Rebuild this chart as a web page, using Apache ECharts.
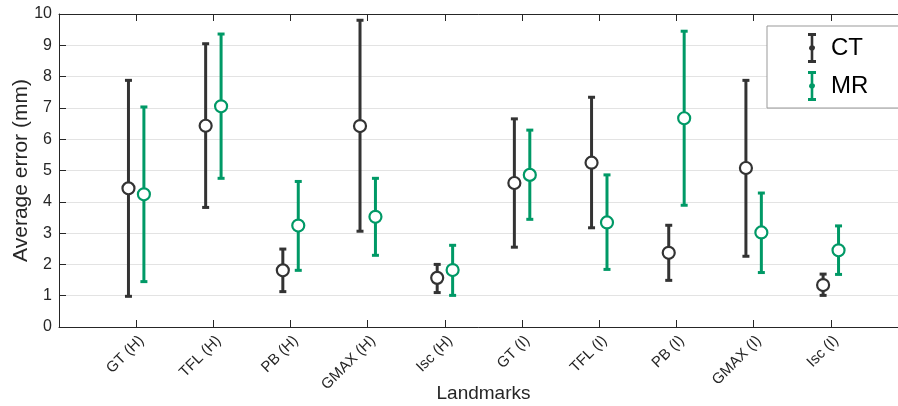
<!DOCTYPE html>
<html>
<head>
<meta charset="utf-8">
<script src="https://cdn.jsdelivr.net/npm/echarts@6/dist/echarts.min.js"></script>
<style>
  html, body { margin: 0; padding: 0; background: #fff; }
  #main { width: 898px; height: 406px; }
</style>
</head>
<body>
<div id="main"></div>
<script>
// 数据
var landmarks = ['GT (H)', 'TFL (H)', 'PB (H)', 'GMAX (H)', 'Isc (H)', 'GT (I)', 'TFL (I)', 'PB (I)', 'GMAX (I)', 'Isc (I)'];

var ctMean = [4.43, 6.43, 1.81, 6.42, 1.57, 4.60, 5.25, 2.37, 5.08, 1.34];
var ctLow  = [0.98, 3.82, 1.13, 3.06, 1.10, 2.55, 3.17, 1.49, 2.26, 1.01];
var ctHigh = [7.88, 9.05, 2.49, 9.80, 2.00, 6.65, 7.34, 3.25, 7.88, 1.69];

var mrMean = [4.24, 7.05, 3.24, 3.52, 1.82, 4.86, 3.34, 6.67, 3.02, 2.45];
var mrLow  = [1.45, 4.75, 1.81, 2.29, 1.01, 3.44, 1.84, 3.89, 1.74, 1.68];
var mrHigh = [7.03, 9.36, 4.65, 4.75, 2.61, 6.29, 4.86, 9.45, 4.28, 3.23];

var ctColor = '#333333';
var mrColor = '#009966';
var fontFamily = '"Liberation Sans", Arial, Helvetica, sans-serif';
var offset = 0.1;

var myChart = echarts.init(document.getElementById('main'));

// 误差线
function errorBar(api) {
    var x = api.value(0);
    var top = api.coord([x, api.value(2)]);
    var bottom = api.coord([x, api.value(1)]);
    var hw = 3.5;
    var style = { stroke: api.visual('color'), lineWidth: 3 };
    return {
        type: 'group',
        children: [
            { type: 'line', shape: { x1: top[0], y1: top[1], x2: bottom[0], y2: bottom[1] }, style: style },
            { type: 'line', shape: { x1: top[0] - hw, y1: top[1], x2: top[0] + hw, y2: top[1] }, style: style },
            { type: 'line', shape: { x1: bottom[0] - hw, y1: bottom[1], x2: bottom[0] + hw, y2: bottom[1] }, style: style }
        ]
    };
}

function barData(low, high, shift) {
    return low.map(function (v, i) { return [i + 1 + shift, v, high[i]]; });
}
function pointData(mean, shift) {
    return mean.map(function (v, i) { return [i + 1 + shift, v]; });
}

var legendIcon = 'path://M1,0H9V3H6.3V12.6A2.6,2.6 0 0,1 6.3,17.4V27H9V30H1V27H3.7V17.4A2.6,2.6 0 0,1 3.7,12.6V3H1Z';

var option = {
    animation: false,
    textStyle: { fontFamily: fontFamily },
    grid: { left: 59, width: 849, top: 14, height: 313, outerBoundsMode: 'none', containLabel: false },
    legend: {
        orient: 'vertical',
        left: 767,
        top: 26,
        data: ['CT', 'MR'],
        icon: legendIcon,
        itemWidth: 8,
        itemHeight: 31,
        itemGap: 8,
        padding: [7, 70, 7, 41],
        borderColor: '#999999',
        borderWidth: 1,
        backgroundColor: '#ffffff',
        selectedMode: false,
        textStyle: { fontSize: 24, color: '#000', padding: [0, 0, 0, 10], fontFamily: fontFamily }
    },
    xAxis: [{
        type: 'value',
        min: 0,
        max: 11,
        interval: 1,
        name: 'Landmarks',
        nameLocation: 'middle',
        nameGap: 57,
        nameMoveOverlap: false,
        nameTextStyle: { fontSize: 19, color: '#262626' },
        axisLine: { show: true, lineStyle: { color: '#262626', width: 1 } },
        axisTick: { show: true, inside: true, length: 7, lineStyle: { color: '#262626' } },
        axisLabel: {
            rotate: 45,
            fontSize: 15,
            color: '#262626',
            margin: 6,
            verticalAlign: 'top',
            formatter: function (v) { return landmarks[v - 1] || ''; }
        },
        splitLine: { show: false }
    }, {
        type: 'value',
        position: 'top',
        min: 0,
        max: 11,
        interval: 1,
        axisLine: { show: true, lineStyle: { color: '#262626', width: 1 } },
        axisTick: { show: true, inside: true, length: 7, lineStyle: { color: '#262626' } },
        axisLabel: { show: false },
        splitLine: { show: false }
    }],
    yAxis: {
        type: 'value',
        min: 0,
        max: 10,
        interval: 1,
        name: 'Average error (mm)',
        nameLocation: 'middle',
        nameGap: 27,
        nameMoveOverlap: false,
        nameTextStyle: { fontSize: 21, color: '#262626' },
        axisLine: { show: true, lineStyle: { color: '#262626', width: 1 } },
        axisTick: { show: true, inside: true, length: 7, lineStyle: { color: '#262626' } },
        axisLabel: { fontSize: 16, color: '#262626', margin: 7 },
        splitLine: { show: true, lineStyle: { color: '#e3e3e3', width: 1 } }
    },
    series: [
        {
            name: 'CT', type: 'custom', renderItem: function (p, api) { return errorBar(api); },
            itemStyle: { color: ctColor }, encode: { x: 0, y: [1, 2] },
            data: barData(ctLow, ctHigh, -offset), z: 2
        },
        {
            name: 'MR', type: 'custom', renderItem: function (p, api) { return errorBar(api); },
            itemStyle: { color: mrColor }, encode: { x: 0, y: [1, 2] },
            data: barData(mrLow, mrHigh, offset), z: 2
        },
        {
            name: 'CT', type: 'scatter', symbol: 'circle', symbolSize: 12,
            itemStyle: { color: '#ffffff', borderColor: ctColor, borderWidth: 2.2, opacity: 1 },
            data: pointData(ctMean, -offset), z: 3
        },
        {
            name: 'MR', type: 'scatter', symbol: 'circle', symbolSize: 12,
            itemStyle: { color: '#ffffff', borderColor: mrColor, borderWidth: 2.2, opacity: 1 },
            data: pointData(mrMean, offset), z: 3
        }
    ]
};

myChart.setOption(option);
</script>
</body>
</html>
